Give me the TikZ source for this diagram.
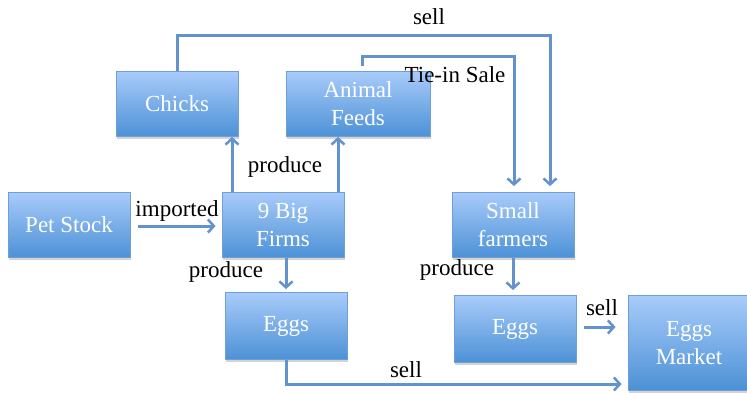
\documentclass[tikz,border=0pt]{standalone}
\usepackage{fontspec}
\setmainfont{Liberation Serif}
\usetikzlibrary{arrows.meta,shadows,calc}
\definecolor{boxtop}{RGB}{168,203,250}
\definecolor{boxbot}{RGB}{76,145,214}
\definecolor{boxline}{RGB}{110,160,215}
\definecolor{conn}{RGB}{98,147,206}
\tikzset{
  boxnode/.style={rectangle, minimum width=122pt, minimum height=65pt, inner sep=0pt,
    top color=boxtop, bottom color=boxbot, draw=boxline, line width=0.8pt,
    text=white, align=center, font=\fontsize{23}{28}\selectfont,
    drop shadow={opacity=0.35, shadow xshift=1pt, shadow yshift=-2.5pt}},
  lbl/.style={inner sep=0pt, font=\fontsize{23}{27}\selectfont, text=black},
  conn/.style={draw=conn, line width=3pt},
  arr/.style={conn, -{Straight Barb[length=6pt,width=13pt,line width=2.5pt]}}
}
\begin{document}
\begin{tikzpicture}[x=1pt,y=-1pt]
\useasboundingbox (0,0) rectangle (747,392);
\clip (0,0) rectangle (747,392);
% boxes
\node[boxnode] (chicks) at (177,104) {Chicks};
\node[boxnode, minimum width=144pt] (feeds) at (358,104) {Animal\\Feeds};
\node[boxnode] (pet) at (69,225) {Pet Stock};
\node[boxnode] (firms) at (283,225) {9 Big\\Firms};
\node[boxnode] (small) at (513,225) {Small\\farmers};
\node[boxnode, minimum height=67pt] (eggsa) at (286,326) {Eggs};
\node[boxnode, minimum height=67pt] (eggsb) at (515,329) {Eggs};
\node[boxnode, minimum height=95pt] (market) at (689,343) {Eggs\\Market};
% labels
\node[lbl] (limp) at (177,211) {imported};
\node[lbl] (lprod1) at (285,167) {produce};
\node[lbl] (lprod2) at (226,272) {produce};
\node[lbl] (lprod3) at (457,270) {produce};
\node[lbl] (lsell1) at (429,17) {sell};
\node[lbl] (ltie) at (455,75) {Tie-in Sale};
\node[lbl] (lsell2) at (602,308) {sell};
\node[lbl] (lsell3) at (406,370) {sell};
% coordinates
\coordinate (petend) at ($(pet.east)+(8,1)$);
\coordinate (firmsin) at ($(firms.west)+(-6,1)$);
% connectors
\draw[arr] (petend) -- (firmsin);
\draw[arr] ($(firms.north)+(-51,0)$) -- ($(chicks.south)+(55,0)$);
\draw[arr] ($(firms.north)+(55,0)$) -- ($(feeds.south)+(-20,0)$);
\draw[arr] (firms.south -| eggsa.north) -- ($(eggsa.north)+(0,-3)$);
\draw[arr] (chicks.north) -- (177,35) -- (550,35) -- ($(small.north)+(37,-6)$);
\draw[arr] ($(feeds.north)+(4,-5)$) -- (362,56) -- (514,56) -- ($(small.north)+(1,-6)$);
\draw[arr] ($(small.south)+(0,0)$) -- ($(eggsb.north)+(-2,-5)$);
\draw[arr] ($(eggsb.east)+(8,-2)$) -- ($(market.west)+(-12,-16)$);
\draw[arr] (eggsa.south) -- (286,384) -- ($(market.west |- 0,384)+(-6,0)$);
\end{tikzpicture}
\end{document}
